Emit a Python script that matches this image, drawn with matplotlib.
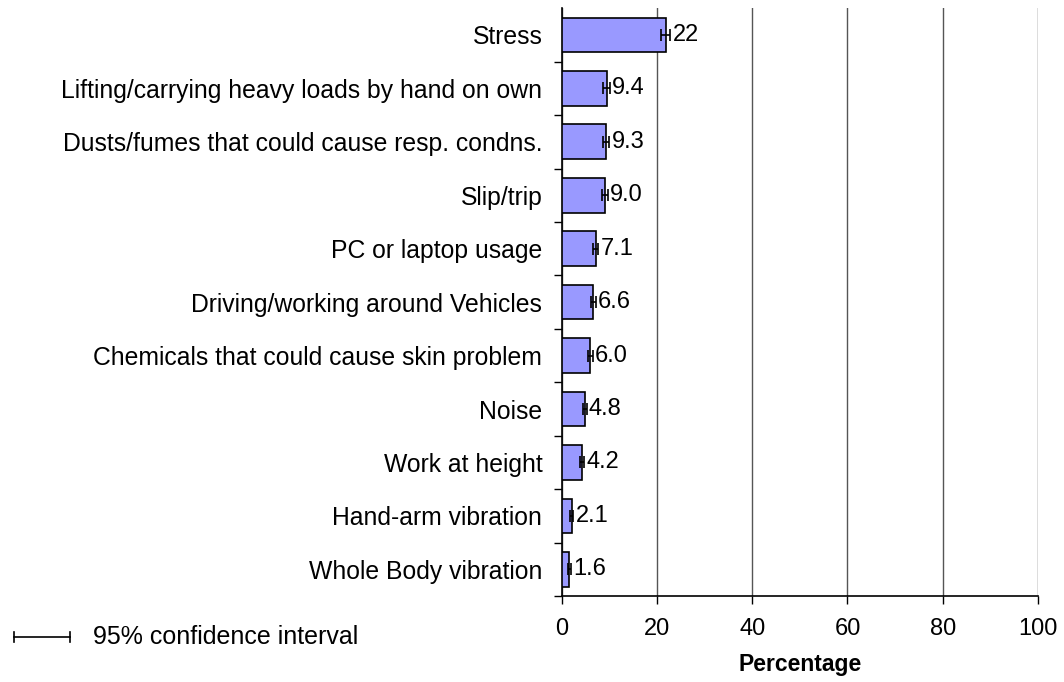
import matplotlib.pyplot as plt
from matplotlib.lines import Line2D

plt.rcParams['font.family'] = ['Liberation Sans', 'DejaVu Sans']

# hazards, top to bottom
hazards = [
    "Stress",
    "Lifting/carrying heavy loads by hand on own",
    "Dusts/fumes that could cause resp. condns.",
    "Slip/trip",
    "PC or laptop usage",
    "Driving/working around Vehicles",
    "Chemicals that could cause skin problem",
    "Noise",
    "Work at height",
    "Hand-arm vibration",
    "Whole Body vibration",
]
percent = [21.8, 9.4, 9.3, 9.0, 7.1, 6.6, 6.0, 4.8, 4.2, 2.1, 1.6]
labels = ["22", "9.4", "9.3", "9.0", "7.1", "6.6", "6.0", "4.8", "4.2", "2.1", "1.6"]
ci_half = [1.0, 0.7, 0.7, 0.6, 0.5, 0.5, 0.5, 0.4, 0.4, 0.3, 0.3]
x_ticks = [0, 20, 40, 60, 80, 100]

FS = 17

fig = plt.figure(figsize=(10.64, 6.82), dpi=100)
ax = fig.add_axes([0.528, 0.126, 0.4475, 0.862])

pos = list(range(len(hazards)))[::-1]
ax.barh(pos, percent, height=0.65, color='#9999FF', edgecolor='black', linewidth=1.2, zorder=3)
ax.errorbar(percent, pos, xerr=ci_half, fmt='none', ecolor='black', elinewidth=1.2,
            capsize=4, capthick=1.2, zorder=4)

for p, v, e, lab in zip(pos, percent, ci_half, labels):
    ax.text(v + e + 0.5, p, lab, va='center', ha='left', fontsize=FS, zorder=5)

ax.set_xlim(0, 100)
ax.set_ylim(-0.5, len(hazards) - 0.5)
ax.set_xticks(x_ticks)
ax.set_xticklabels([str(t) for t in x_ticks], fontsize=FS)
ax.tick_params(axis='x', length=6, width=1, pad=10, direction='out')

ax.set_yticks(pos)
ax.set_yticklabels(hazards, fontsize=17.8)
ax.tick_params(axis='y', length=0, pad=14)
ax.set_yticks([p + 0.5 for p in pos[1:]] + [-0.5], minor=True)
ax.tick_params(axis='y', which='minor', length=6, width=1, direction='out')

ax.xaxis.grid(True, color='#555555', linewidth=1, zorder=0)
for s in ['top', 'right']:
    ax.spines[s].set_visible(False)
ax.spines['left'].set_linewidth(1.2)
ax.spines['bottom'].set_linewidth(1.2)

ax.set_xlabel('Percentage', fontsize=FS - 0.5, fontweight='bold', labelpad=9)

# confidence interval key
fig.add_artist(Line2D([0.013, 0.066], [0.066, 0.066], color='black', linewidth=1.2))
fig.add_artist(Line2D([0.013, 0.013], [0.058, 0.074], color='black', linewidth=1.2))
fig.add_artist(Line2D([0.066, 0.066], [0.058, 0.074], color='black', linewidth=1.2))
fig.text(0.087, 0.066, "95% confidence interval", fontsize=18, va='center', ha='left')

fig.savefig('out.png', dpi=100)
